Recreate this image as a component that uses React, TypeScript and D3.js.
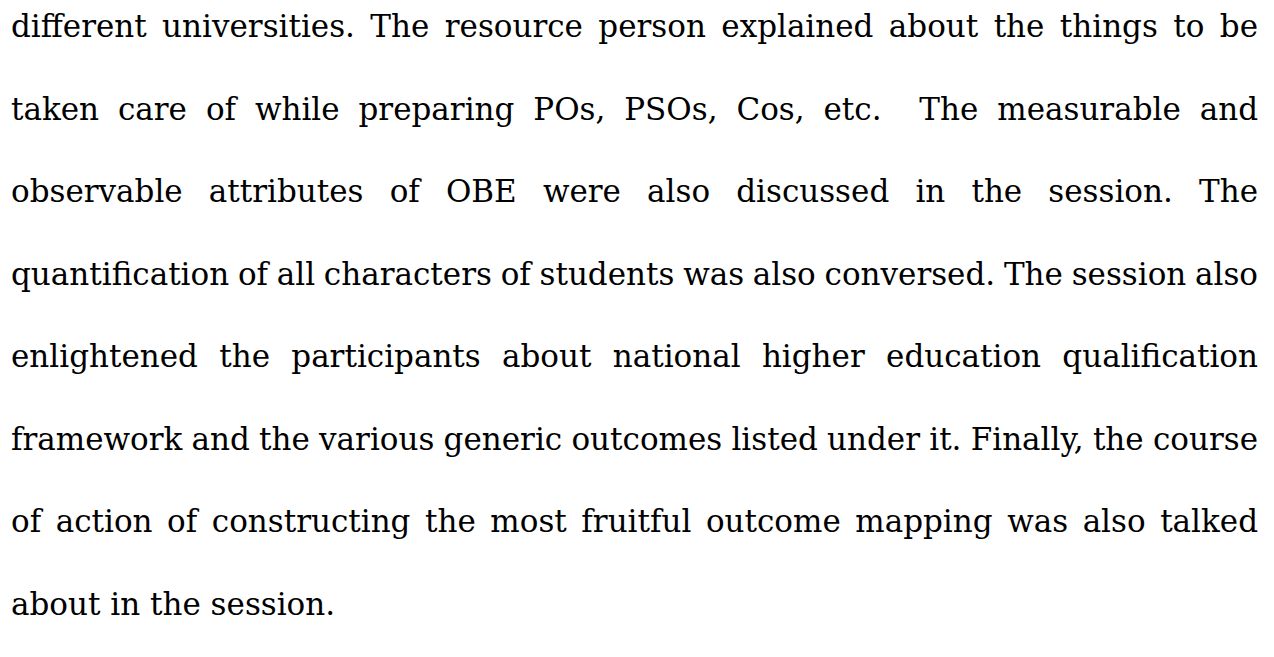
import * as d3 from 'd3'
import React, { useEffect, useRef } from 'react'

// paragraph lines, as they break in the reference (last line is not justified)
const lines: string[] = [
  'different universities. The resource person explained about the things to be',
  'taken care of while preparing POs, PSOs, Cos, etc.  The measurable and',
  'observable attributes of OBE were also discussed in the session. The',
  'quantification of all characters of students was also conversed. The session also',
  'enlightened the participants about national higher education qualification',
  'framework and the various generic outcomes listed under it. Finally, the course',
  'of action of constructing the most fruitful outcome mapping was also talked',
  'about in the session.'
]

const App = () => {
  const svgRef = useRef<SVGSVGElement | null>(null)

  const width = 1274
  const height = 657
  const left = 11
  const right = 1258
  const fontSize = 31

  useEffect(() => {
    if (!svgRef.current) return
    const svg = d3.select(svgRef.current)
    svg.selectAll('*').remove()

    svg.append('rect').attr('width', width).attr('height', height).attr('fill', '#ffffff')

    // baselines, evenly spaced (double-spaced paragraph)
    const y = d3.scaleLinear().domain([0, lines.length - 1]).range([37, 615])

    const g = svg
      .append('g')
      .style('font-family', '"DejaVu Serif", serif')
      .style('font-size', `${fontSize}px`)
      .attr('fill', '#000000')

    lines.forEach((line, i) => {
      const isLast = i === lines.length - 1
      if (isLast) {
        g.append('text').attr('x', left).attr('y', y(i)).text(line)
        return
      }
      // justify: measure each word, share the leftover width between the spaces
      const tokens = line.split(' ')
      const row = g.append('g')
      const widths = tokens.map((t) => {
        if (!t) return 0
        const node = row.append('text').attr('y', y(i)).text(t).node() as SVGTextElement
        return node.getComputedTextLength()
      })
      const used = d3.sum(widths)
      const gap = (right - left - used) / (tokens.length - 1)
      let x = left
      row.selectAll('text').each(function () {
        // skip nothing: only non-empty tokens were appended
      })
      const nodes = row.selectAll<SVGTextElement, unknown>('text').nodes()
      let k = 0
      tokens.forEach((t, j) => {
        if (t) {
          d3.select(nodes[k]).attr('x', x)
          k++
        }
        x += widths[j] + gap
      })
    })
  }, [])

  return (
    <div style={{ position: 'absolute', left: 0, top: 0, background: '#fff' }}>
      <svg ref={svgRef} width={width} height={height} style={{ display: 'block' }}></svg>
    </div>
  )
}

export default App
